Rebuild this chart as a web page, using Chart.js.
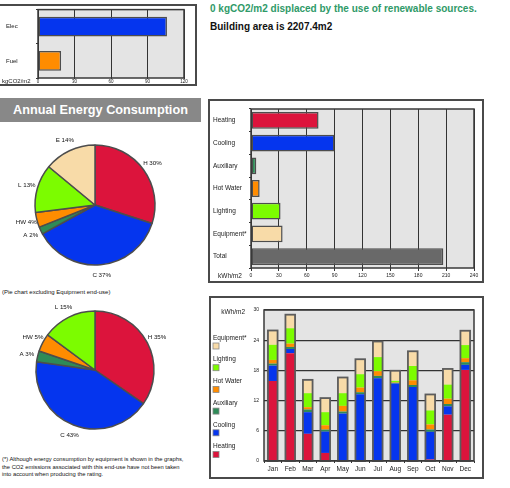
<!DOCTYPE html>
<html>
<head>
<meta charset="utf-8">
<script src="https://cdn.jsdelivr.net/npm/chart.js@4/dist/chart.umd.min.js"></script>
<style>
  html, body { margin: 0; padding: 0; background: #fff; }
  body { position: relative; width: 510px; height: 488px; overflow: hidden;
         font-family: "Liberation Sans", Arial, sans-serif; color: #111; }
  .abs { position: absolute; white-space: nowrap; }
  .frame { position: absolute; box-sizing: border-box; border: 2px solid #4a4a4a; }
  canvas { position: absolute; }
</style>
</head>
<body>

<div class="frame" style="left:-3px; top:4px; width:200px; height:82px;"></div>
<canvas id="co2" width="195" height="81" style="left:0; top:4px;"></canvas>

<div class="abs" style="left:210px; top:3px; font-size:10px; line-height:12px; font-weight:bold; color:#2f9a68;">0 kgCO2/m2 displaced by the use of renewable sources.</div>
<div class="abs" style="left:210px; top:21px; font-size:10px; line-height:12px; font-weight:bold; color:#111;">Building area is 2207.4m2</div>

<div class="abs" style="left:0; top:98px; width:201px; height:24px; background:#888; color:#fff; font-weight:bold; font-size:12.7px; line-height:24px; text-align:center;">Annual Energy Consumption</div>

<canvas id="pieAll" width="190" height="160" style="left:0; top:125px;"></canvas>
<div class="abs" style="left:2px; top:288px; font-size:6px; line-height:8px;">(Pie chart excluding Equipment end-use)</div>
<canvas id="pieNoEq" width="190" height="146" style="left:0; top:297px;"></canvas>

<div class="abs" style="left:2px; top:456px; font-size:5.8px; line-height:7.5px; white-space:normal; width:205px;">(*) Although energy consumption by equipment is shown in the graphs,<br>the CO2 emissions associated with this end-use have not been taken<br>into account when producing the rating.</div>

<div class="frame" style="left:208px; top:99px; width:276px; height:184px;"></div>
<canvas id="annual" width="276" height="184" style="left:208px; top:99px;"></canvas>

<div class="frame" style="left:209px; top:296px; width:275px; height:183px;"></div>
<canvas id="monthly" width="275" height="183" style="left:209px; top:296px;"></canvas>

<script>
// ---- data ----
const fuelTypes = ['Elec', 'Fuel'];
const co2PerArea = [106, 19];                 // kgCO2/m2

const endUses = ['Heating', 'Cooling', 'Auxiliary', 'Hot Water', 'Lighting', 'Equipment*', 'Total'];
const annualKwh = [72.7, 89.9, 5.7, 9.3, 31.8, 34, 207];   // kWh/m2

const shareLabelsAll = ['H', 'C', 'A', 'HW', 'L', 'E'];
const sharePctAll = [30, 37, 2, 4, 13, 14];
const shareLabelsNoEq = ['H', 'C', 'A', 'HW', 'L'];
const sharePctNoEq = [35, 43, 3, 5, 15];

const months = ['Jan', 'Feb', 'Mar', 'Apr', 'May', 'Jun', 'Jul', 'Aug', 'Sep', 'Oct', 'Nov', 'Dec'];
const heating   = [15.9, 21.4, 5.4, 1.6, 0, 0, 0, 0, 0, 0.3, 9.2, 18.1];
const cooling   = [3.05, 0.86, 4.3, 4.24, 9.42, 13.26, 16.45, 15.38, 14.7, 5.5, 1.66, 1.0];
const auxiliary = [0.4, 0.4, 0.53, 0.4, 0.4, 0.4, 0.46, 0.15, 0.4, 0.46, 0.46, 0.53];
const hotWater  = [0.73, 0.66, 0.46, 0.86, 1.13, 0.93, 0.93, 0.1, 0.93, 1.0, 1.06, 0.8];
const lighting  = [3.0, 3.05, 2.78, 2.6, 2.52, 2.65, 2.8, 0.3, 2.85, 2.78, 2.79, 2.6];
const equipment = [2.85, 2.7, 2.65, 2.8, 3.12, 2.98, 3.1, 2.0, 2.92, 3.18, 3.12, 2.85];

// ---- styling ----
const FONT = '"Liberation Sans", Arial, sans-serif';
const COL = {
  heat: '#dc143c', cool: '#0535ee', aux: '#2e8b57', hw: '#ff8c00',
  light: '#7cfc00', equip: '#f8dba8', total: '#696969'
};
const EDGE = '#4d4d4d';
const PLOT_BG = '#e4e4e4';
const GRID = '#333';

Chart.defaults.font.family = FONT;
Chart.defaults.color = '#1a1a1a';
Chart.defaults.animation = false;
Chart.defaults.responsive = false;
Chart.defaults.devicePixelRatio = 1;
Chart.defaults.plugins.legend.display = false;
Chart.defaults.plugins.tooltip.enabled = false;

// grey plot area and its dark outline
const plotBox = {
  id: 'plotBox',
  beforeDatasetsDraw(chart) {
    const {ctx, chartArea: a} = chart;
    ctx.save();
    ctx.fillStyle = PLOT_BG;
    ctx.fillRect(a.left, a.top, a.width, a.height);
    ctx.restore();
  },
  beforeDraw(chart) {
    // background goes under the grid lines
    const {ctx, chartArea: a} = chart;
    ctx.save();
    ctx.fillStyle = PLOT_BG;
    ctx.fillRect(a.left, a.top, a.width, a.height);
    ctx.restore();
  },
  afterDraw(chart) {
    const {ctx, chartArea: a} = chart;
    ctx.save();
    ctx.strokeStyle = '#3a3a3a';
    ctx.lineWidth = 1.5;
    ctx.strokeRect(a.left, a.top, a.width, a.height);
    ctx.restore();
  }
};
// grid must stay visible, so only the pre-draw background is used
delete plotBox.beforeDatasetsDraw;

// unit caption placed beside the axis ticks
const unitText = {
  id: 'unitText',
  afterDraw(chart, args, o) {
    if (!o || !o.text) return;
    const {ctx} = chart;
    ctx.save();
    ctx.font = `${o.size}px ${FONT}`;
    ctx.fillStyle = '#1a1a1a';
    ctx.textAlign = o.align || 'left';
    ctx.textBaseline = 'middle';
    ctx.fillText(o.text, o.x, o.y);
    ctx.restore();
  }
};

// "H 30%" style labels set just outside each slice
const sliceLabels = {
  id: 'sliceLabels',
  afterDatasetsDraw(chart, args, o) {
    const {ctx} = chart;
    const meta = chart.getDatasetMeta(0);
    const values = chart.data.datasets[0].data;
    ctx.save();
    ctx.font = `${o.size}px ${FONT}`;
    ctx.fillStyle = '#111';
    ctx.textAlign = 'center';
    ctx.textBaseline = 'middle';
    meta.data.forEach((arc, i) => {
      const p = arc.getProps(['x', 'y', 'startAngle', 'endAngle', 'outerRadius'], true);
      const mid = (p.startAngle + p.endAngle) / 2;
      const r = p.outerRadius + o.offset;
      ctx.fillText(`${chart.data.labels[i]} ${values[i]}%`,
                   p.x + Math.cos(mid) * r, p.y + Math.sin(mid) * r);
    });
    ctx.restore();
  }
};

// outline around each monthly stack, plus the stacked legend on the left
const stackOutline = {
  id: 'stackOutline',
  afterDatasetsDraw(chart) {
    const {ctx} = chart;
    const n = chart.data.datasets.length;
    const topMeta = chart.getDatasetMeta(n - 1);
    const base = chart.scales.y.getPixelForValue(0);
    ctx.save();
    ctx.strokeStyle = '#5c5c5c';
    ctx.lineWidth = 1.8;
    topMeta.data.forEach(bar => {
      const p = bar.getProps(['x', 'y', 'width'], true);
      ctx.strokeRect(p.x - p.width / 2, p.y, p.width, base - p.y);
    });
    ctx.restore();
  }
};
const sideLegend = {
  id: 'sideLegend',
  afterDraw(chart, args, o) {
    const {ctx} = chart;
    const sets = chart.data.datasets.slice().reverse();
    ctx.save();
    ctx.font = `${o.size}px ${FONT}`;
    ctx.textAlign = 'left';
    ctx.textBaseline = 'middle';
    sets.forEach((ds, i) => {
      const ty = o.top + i * o.step;
      ctx.fillStyle = '#1a1a1a';
      ctx.fillText(ds.label, o.x, ty);
      ctx.fillStyle = ds.backgroundColor;
      ctx.fillRect(o.x, ty + 5, 6, 6);
      ctx.strokeStyle = '#888';
      ctx.lineWidth = 0.8;
      ctx.strokeRect(o.x, ty + 5, 6, 6);
    });
    ctx.restore();
  }
};

// ---- CO2 by fuel ----
new Chart(document.getElementById('co2'), {
  type: 'bar',
  data: {
    labels: fuelTypes,
    datasets: [{
      data: co2PerArea,
      backgroundColor: [COL.cool, COL.hw],
      borderColor: EDGE, borderWidth: 1.5, borderSkipped: false,
      barPercentage: 0.58, categoryPercentage: 1
    }]
  },
  options: {
    indexAxis: 'y',
    layout: {padding: {left: 6, right: 11, top: 3, bottom: 0}},
    scales: {
      x: {
        min: 0, max: 120,
        ticks: {stepSize: 30, font: {size: 4.5}, padding: 0, maxRotation: 0},
        grid: {color: GRID, lineWidth: 1, tickLength: 1},
        border: {display: false},
        afterFit(s) { s.height = 7; }
      },
      y: {
        ticks: {crossAlign: 'far', font: {size: 6}, padding: 2},
        grid: {drawOnChartArea: false, offset: true, tickLength: 2, color: GRID},
        border: {display: false},
        afterFit(s) { s.width = 32; }
      }
    },
    plugins: {unitText: {text: 'kgCO2/m2', size: 6, x: 2, y: 77.5}}
  },
  plugins: [plotBox, unitText]
});

// ---- annual end-use pie charts ----
const pieColorsAll = [COL.heat, COL.cool, COL.aux, COL.hw, COL.light, COL.equip];
function makePie(id, labels, values, colors, radius) {
  return new Chart(document.getElementById(id), {
    type: 'pie',
    data: {
      labels,
      datasets: [{data: values, backgroundColor: colors, borderColor: EDGE, borderWidth: 1.5, radius}]
    },
    options: {
      layout: {padding: 0},
      plugins: {sliceLabels: {size: 6.2, offset: 11}}
    },
    plugins: [sliceLabels]
  });
}
makePie('pieAll', shareLabelsAll, sharePctAll, pieColorsAll, 60);
makePie('pieNoEq', shareLabelsNoEq, sharePctNoEq, pieColorsAll.slice(0, 5), 59);

// ---- annual end-use bars ----
new Chart(document.getElementById('annual'), {
  type: 'bar',
  data: {
    labels: endUses,
    datasets: [{
      data: annualKwh,
      backgroundColor: [COL.heat, COL.cool, COL.aux, COL.hw, COL.light, COL.equip, COL.total],
      borderColor: EDGE, borderWidth: 1.5, borderSkipped: false,
      barPercentage: 0.74, categoryPercentage: 1
    }]
  },
  options: {
    indexAxis: 'y',
    layout: {padding: {left: 5, right: 10, top: 10, bottom: 0}},
    scales: {
      x: {
        min: 0, max: 240,
        ticks: {stepSize: 30, font: {size: 5}, padding: 2, maxRotation: 0},
        grid: {color: GRID, lineWidth: 1, tickLength: 3},
        border: {display: false},
        afterFit(s) { s.height = 15; }
      },
      y: {
        ticks: {crossAlign: 'far', font: {size: 6.5}, padding: 2},
        grid: {drawOnChartArea: false, offset: true, tickLength: 2, color: GRID},
        border: {display: false},
        afterFit(s) { s.width = 38; }
      }
    },
    plugins: {unitText: {text: 'kWh/m2', size: 6.5, x: 10, y: 177.5}}
  },
  plugins: [plotBox, unitText]
});

// ---- monthly stacked consumption ----
const series = [
  {label: 'Heating', data: heating, color: COL.heat},
  {label: 'Cooling', data: cooling, color: COL.cool},
  {label: 'Auxiliary', data: auxiliary, color: COL.aux},
  {label: 'Hot Water', data: hotWater, color: COL.hw},
  {label: 'Lighting', data: lighting, color: COL.light},
  {label: 'Equipment*', data: equipment, color: COL.equip}
];
new Chart(document.getElementById('monthly'), {
  type: 'bar',
  data: {
    labels: months,
    datasets: series.map(s => ({
      label: s.label, data: s.data, backgroundColor: s.color,
      borderWidth: 0, barPercentage: 0.55, categoryPercentage: 1
    }))
  },
  options: {
    layout: {padding: {left: 41, right: 10, top: 14, bottom: 0}},
    scales: {
      x: {
        stacked: true,
        ticks: {font: {size: 6.5}, padding: 2, maxRotation: 0},
        grid: {drawOnChartArea: false, offset: true, tickLength: 2, color: GRID},
        border: {display: false},
        afterFit(s) { s.height = 18; }
      },
      y: {
        stacked: true, min: 0, max: 30,
        ticks: {stepSize: 6, font: {size: 5}, padding: 5},
        grid: {color: GRID, lineWidth: 1.2, tickLength: 0},
        border: {display: false},
        afterFit(s) { s.width = 14; }
      }
    },
    plugins: {
      unitText: {text: 'kWh/m2', size: 6.5, x: 36, y: 16.7, align: 'right'},
      sideLegend: {x: 4, top: 42, step: 21.7, size: 6.5}
    }
  },
  plugins: [plotBox, unitText, stackOutline, sideLegend]
});
</script>
</body>
</html>
